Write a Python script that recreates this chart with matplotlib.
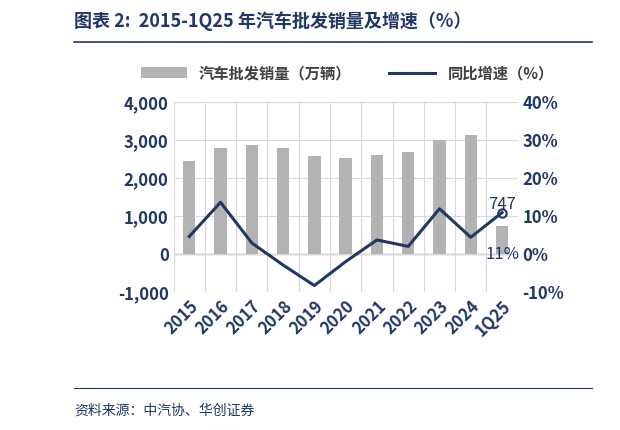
import matplotlib.pyplot as plt
from matplotlib.ticker import FuncFormatter

plt.rcParams['font.family'] = ['Noto Sans CJK SC', 'DejaVu Sans']

years = ['2015', '2016', '2017', '2018', '2019', '2020', '2021', '2022', '2023', '2024', '1Q25']
sales = [2456, 2803, 2888, 2809, 2577, 2531, 2627, 2686, 3009, 3143, 747]
growth = [4.7, 13.7, 3.0, -2.8, -8.2, -1.9, 3.8, 2.1, 12.0, 4.5, 11.0]

navy = '#1f3864'
fig = plt.figure(figsize=(6.2, 4.3), dpi=100)
fig.text(0.12, 0.95, '图表 2:  2015-1Q25 年汽车批发销量及增速（%）', fontsize=13,
         fontweight='bold', color=navy, va='center')
fig.add_artist(plt.Line2D([0.12, 0.955], [0.903, 0.903], color=navy, lw=1.2))
fig.add_artist(plt.Line2D([0.12, 0.955], [0.098, 0.098], color=navy, lw=0.8))
fig.text(0.12, 0.045, '资料来源：中汽协、华创证券', fontsize=10, style='italic',
         color=navy, va='center')

ax = fig.add_axes([0.28, 0.32, 0.555, 0.442])
x = range(len(years))
ax.bar(x, sales, width=0.4, color='#b3b3b3', label='汽车批发销量（万辆）', zorder=2)
ax.set_ylim(-1000, 4000)
ax.set_yticks(range(-1000, 4001, 1000))
ax.yaxis.set_major_formatter(FuncFormatter(lambda v, p: f'{int(v):,}'))
ax.set_xlim(-0.5, len(years) - 0.5)
ax.set_xticks([i - 0.5 for i in x] + [len(years) - 0.5], minor=True)
ax.set_xticks(list(x))
ax.set_xticklabels(years, rotation=45, ha='right', rotation_mode='anchor')
ax.grid(True, which='minor', axis='x', color='#d9d9d9', lw=0.8, zorder=0)
ax.grid(True, which='major', axis='y', color='#d9d9d9', lw=0.8, zorder=0)
ax.axhline(0, color='#999999', lw=1, zorder=1)
for s in ax.spines.values():
    s.set_visible(False)
ax.tick_params(which='both', length=0, labelsize=12, colors=navy)
for t in ax.get_xticklabels() + ax.get_yticklabels():
    t.set_fontweight('bold')

ax2 = ax.twinx()
ax2.plot(x, growth, color=navy, lw=2.2, label='同比增速（%）', zorder=3)
ax2.plot(x[-1], growth[-1], 'o', mfc='white', mec=navy, ms=6, mew=1.5)
ax2.set_ylim(-10, 40)
ax2.set_yticks(range(-10, 41, 10))
ax2.yaxis.set_major_formatter(FuncFormatter(lambda v, p: f'{int(v)}%'))
for s in ax2.spines.values():
    s.set_visible(False)
ax2.tick_params(length=0, labelsize=12, colors=navy)
for t in ax2.get_yticklabels():
    t.set_fontweight('bold')

ax.text(x[-1], sales[-1] + 350, f'{sales[-1]}', ha='center', va='bottom', fontsize=12, color=navy)
ax2.text(x[-1], 0, f'{growth[-1]:.0f}%', ha='center', va='center', fontsize=12, color=navy)

h1, l1 = ax.get_legend_handles_labels()
h2, l2 = ax2.get_legend_handles_labels()
fig.legend(h1 + h2, l1 + l2, loc='center', bbox_to_anchor=(0.56, 0.83), ncol=2,
           frameon=False, handlelength=3, columnspacing=2.5,
           prop={'family': ['Noto Sans CJK SC', 'DejaVu Sans'], 'weight': 'bold', 'size': 11})
for t in fig.legends[0].get_texts():
    t.set_color('#404040')

fig.savefig('out.png', dpi=100)
